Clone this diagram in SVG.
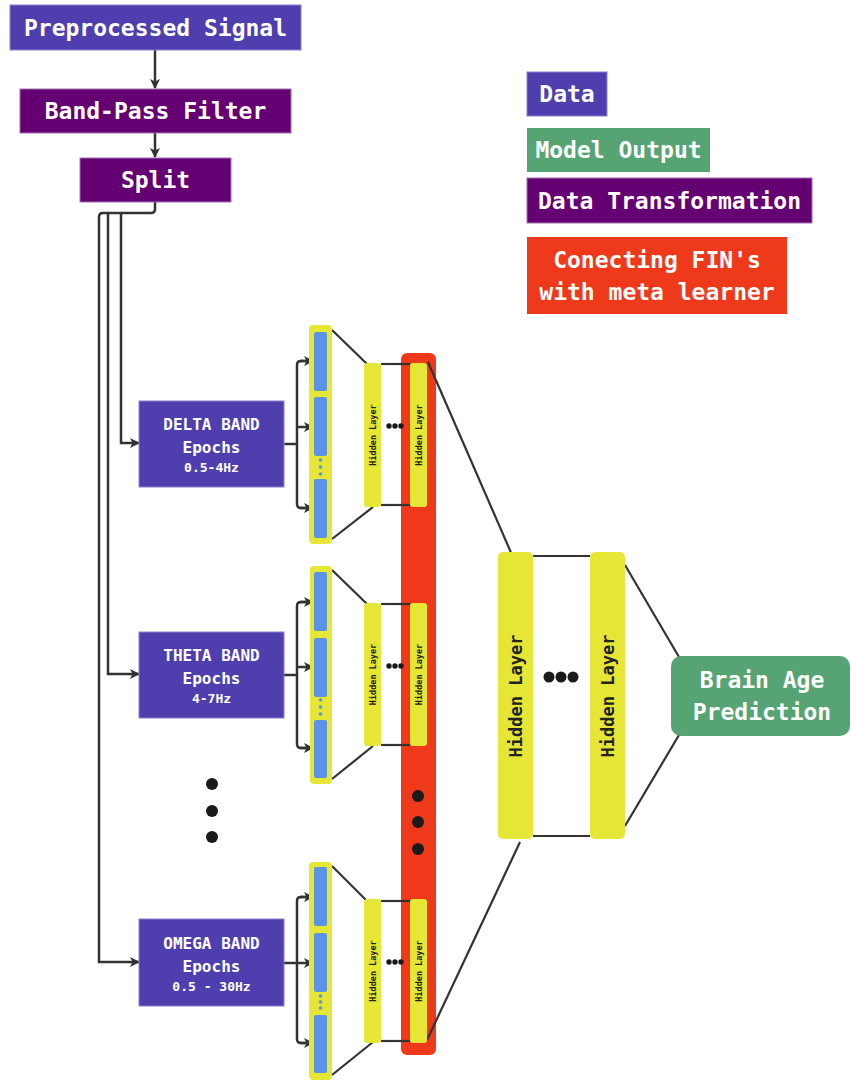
<svg xmlns="http://www.w3.org/2000/svg" width="851" height="1080" viewBox="0 0 851 1080">
<style>
.t{font-family:"DejaVu Sans Mono","Liberation Mono",monospace;font-weight:bold;fill:#fff;text-anchor:middle;dominant-baseline:central}
.big{font-size:23px}
.mid{font-size:16px}
.sm{font-size:13px}
.hl{font-family:"DejaVu Sans Mono","Liberation Mono",monospace;font-weight:bold;fill:#222;text-anchor:middle;dominant-baseline:central;font-size:8.5px}
.hlb{font-family:"DejaVu Sans Mono","Liberation Mono",monospace;font-weight:bold;fill:#222;text-anchor:middle;dominant-baseline:central;font-size:17px}
.data{fill:#4f3fae;stroke:#8b80d2;stroke-width:1}
.trans{fill:#650072;stroke:#a070b0;stroke-width:1}
.green{fill:#56a474}
.red{fill:#ee3a1b}
.yel{fill:#e5e635}
.blue{fill:#5b93e8}
.ln{fill:none;stroke:#333;stroke-width:2.5}
.th{fill:none;stroke:#333;stroke-width:2.2}
.dot{fill:#1a1a1a}
.bdot{fill:#5b93e8}
</style>
<defs>
<marker id="ah" viewBox="0 0 10 10" refX="9" refY="5" markerWidth="10" markerHeight="10" markerUnits="userSpaceOnUse" orient="auto">
<path d="M0,0 L10,5 L0,10 L2.5,5 Z" fill="#333"/>
</marker>
</defs>

<!-- legend -->
<g id="legend-data"><rect x="527" y="72" width="80" height="44" class="data"/><text x="567" y="94" class="t big">Data</text></g>
<g id="legend-model"><rect x="527" y="128" width="183" height="44" class="green"/><text x="618.5" y="150" class="t big">Model Output</text></g>
<g id="legend-trans"><rect x="527" y="178" width="285" height="45" class="trans"/><text x="669.5" y="200.5" class="t big">Data Transformation</text></g>
<g id="legend-meta"><rect x="527" y="237" width="260" height="77" class="red"/><text x="657" y="260" class="t big">Conecting FIN's</text><text x="657" y="292" class="t big">with meta learner</text></g>

<!-- red meta bar -->
<g id="meta-bar"><rect x="401" y="353" width="35" height="702" rx="6" class="red"/>
<circle cx="418" cy="796" r="6" class="dot"/><circle cx="418" cy="822" r="6" class="dot"/><circle cx="418" cy="849" r="6" class="dot"/></g>

<!-- connectors -->
<g id="connectors">
<path class="ln" d="M155,50 V88" marker-end="url(#ah)"/>
<path class="ln" d="M155,133 V157" marker-end="url(#ah)"/>
<path class="ln" d="M155,202 V209 Q155,213 151,213 H103 Q99,213 99,217 V962 H139" marker-end="url(#ah)"/>
<path class="ln" d="M108,213 V674 H139" marker-end="url(#ah)"/>
<path class="ln" d="M121,213 V443 H139" marker-end="url(#ah)"/>
<!-- delta branches -->
<path class="ln" d="M283,444 H297"/>
<path class="ln" d="M313,361 H301 Q297,361 297,365 V504 Q297,508 301,508 H313"/>
<path class="ln" d="M300,361 H313" marker-end="url(#ah)"/>
<path class="ln" d="M297,427 H313" marker-end="url(#ah)"/>
<path class="ln" d="M300,508 H313" marker-end="url(#ah)"/>
<!-- theta branches -->
<path class="ln" d="M283,675 H297"/>
<path class="ln" d="M313,602 H301 Q297,602 297,606 V744 Q297,748 301,748 H313"/>
<path class="ln" d="M300,602 H313" marker-end="url(#ah)"/>
<path class="ln" d="M297,667 H313" marker-end="url(#ah)"/>
<path class="ln" d="M300,748 H313" marker-end="url(#ah)"/>
<!-- omega branches -->
<path class="ln" d="M283,963 H297"/>
<path class="ln" d="M313,897 H301 Q297,897 297,901 V1039 Q297,1043 301,1043 H313"/>
<path class="ln" d="M300,897 H313" marker-end="url(#ah)"/>
<path class="ln" d="M297,963 H313" marker-end="url(#ah)"/>
<path class="ln" d="M300,1043 H313" marker-end="url(#ah)"/>
<!-- delta net lines -->
<path class="th" d="M332,330 L367,364"/>
<path class="th" d="M332,539 L373,507"/>
<path class="th" d="M381,364 H410"/>
<path class="th" d="M381,505 H410"/>
<!-- theta net lines -->
<path class="th" d="M332,570 L367,604"/>
<path class="th" d="M332,779 L373,746"/>
<path class="th" d="M381,604 H410"/>
<path class="th" d="M381,745 H410"/>
<!-- omega net lines -->
<path class="th" d="M332,866 L367,901"/>
<path class="th" d="M332,1075 L373,1042"/>
<path class="th" d="M381,901 H410"/>
<path class="th" d="M381,1041 H410"/>
<!-- to meta learner -->
<path class="th" d="M428,362 L516,564"/>
<path class="th" d="M427,1040 L520,842"/>
<path class="th" d="M533,556 H590"/>
<path class="th" d="M533,836 H590"/>
<path class="th" d="M625,565 L679,657"/>
<path class="th" d="M625,826 L679,735"/>
</g>

<!-- top nodes -->
<g id="preprocessed"><rect x="10" y="5" width="291" height="45" class="data"/><text x="155.5" y="27.5" class="t big">Preprocessed Signal</text></g>
<g id="bandpass"><rect x="20" y="89" width="271" height="44" class="trans"/><text x="155.5" y="111" class="t big">Band-Pass Filter</text></g>
<g id="split"><rect x="80" y="158" width="151" height="44" class="trans"/><text x="155.5" y="180" class="t big">Split</text></g>

<!-- band boxes -->
<g id="delta-band"><rect x="139" y="401" width="145" height="86" class="data"/>
<text x="211.5" y="424" class="t mid">DELTA BAND</text><text x="211.5" y="447" class="t mid">Epochs</text><text x="211.5" y="467" class="t sm">0.5-4Hz</text></g>
<g id="theta-band"><rect x="139" y="632" width="145" height="86" class="data"/>
<text x="211.5" y="655" class="t mid">THETA BAND</text><text x="211.5" y="678" class="t mid">Epochs</text><text x="211.5" y="698" class="t sm">4-7Hz</text></g>
<g id="omega-band"><rect x="139" y="919" width="145" height="87" class="data"/>
<text x="211.5" y="943" class="t mid">OMEGA BAND</text><text x="211.5" y="966" class="t mid">Epochs</text><text x="211.5" y="986" class="t sm">0.5 - 30Hz</text></g>

<g id="band-dots"><circle cx="212" cy="784" r="6" class="dot"/><circle cx="212" cy="811" r="6" class="dot"/><circle cx="212" cy="837" r="6" class="dot"/></g>

<!-- delta network -->
<g id="delta-input"><rect x="309" y="325" width="23" height="219" rx="4" class="yel"/>
<rect x="314" y="332" width="13" height="59" rx="2" class="blue"/><rect x="314" y="397" width="13" height="59" rx="2" class="blue"/><rect x="314" y="479" width="13" height="59" rx="2" class="blue"/>
<circle cx="320.5" cy="460" r="1.8" class="bdot"/><circle cx="320.5" cy="467" r="1.8" class="bdot"/><circle cx="320.5" cy="474" r="1.8" class="bdot"/></g>
<g id="delta-hidden1"><rect x="364" y="363" width="17" height="144" rx="3" class="yel"/><text transform="translate(372.5,435) rotate(-90)" class="hl">Hidden Layer</text></g>
<g id="delta-dots"><circle cx="389" cy="426" r="2.7" class="dot"/><circle cx="395" cy="426" r="2.7" class="dot"/><circle cx="401" cy="426" r="2.7" class="dot"/></g>
<g id="delta-hidden2"><rect x="410" y="363" width="17" height="144" rx="3" class="yel"/><text transform="translate(418.5,435) rotate(-90)" class="hl">Hidden Layer</text></g>

<!-- theta network -->
<g id="theta-input"><rect x="310" y="566" width="22" height="218" rx="4" class="yel"/>
<rect x="314" y="572" width="13" height="59" rx="2" class="blue"/><rect x="314" y="638" width="13" height="59" rx="2" class="blue"/><rect x="314" y="720" width="13" height="58" rx="2" class="blue"/>
<circle cx="320.5" cy="700" r="1.8" class="bdot"/><circle cx="320.5" cy="707" r="1.8" class="bdot"/><circle cx="320.5" cy="714" r="1.8" class="bdot"/></g>
<g id="theta-hidden1"><rect x="364" y="603" width="17" height="143" rx="3" class="yel"/><text transform="translate(372.5,674.5) rotate(-90)" class="hl">Hidden Layer</text></g>
<g id="theta-dots"><circle cx="389" cy="666" r="2.7" class="dot"/><circle cx="395" cy="666" r="2.7" class="dot"/><circle cx="401" cy="666" r="2.7" class="dot"/></g>
<g id="theta-hidden2"><rect x="410" y="603" width="17" height="143" rx="3" class="yel"/><text transform="translate(418.5,674.5) rotate(-90)" class="hl">Hidden Layer</text></g>

<!-- omega network -->
<g id="omega-input"><rect x="309" y="862" width="23" height="218" rx="4" class="yel"/>
<rect x="314" y="867" width="13" height="59" rx="2" class="blue"/><rect x="314" y="933" width="13" height="59" rx="2" class="blue"/><rect x="314" y="1015" width="13" height="58" rx="2" class="blue"/>
<circle cx="320.5" cy="996" r="1.8" class="bdot"/><circle cx="320.5" cy="1002" r="1.8" class="bdot"/><circle cx="320.5" cy="1008" r="1.8" class="bdot"/></g>
<g id="omega-hidden1"><rect x="364" y="899" width="17" height="144" rx="3" class="yel"/><text transform="translate(372.5,971) rotate(-90)" class="hl">Hidden Layer</text></g>
<g id="omega-dots"><circle cx="389" cy="962" r="2.7" class="dot"/><circle cx="395" cy="962" r="2.7" class="dot"/><circle cx="401" cy="962" r="2.7" class="dot"/></g>
<g id="omega-hidden2"><rect x="410" y="899" width="17" height="144" rx="3" class="yel"/><text transform="translate(418.5,971) rotate(-90)" class="hl">Hidden Layer</text></g>

<!-- meta learner -->
<g id="meta-hidden1"><rect x="498" y="552" width="35" height="287" rx="5" class="yel"/><text transform="translate(515.5,696) rotate(-90)" class="hlb">Hidden Layer</text></g>
<g id="meta-dots"><circle cx="549" cy="677" r="5.5" class="dot"/><circle cx="561" cy="677" r="5.5" class="dot"/><circle cx="573" cy="677" r="5.5" class="dot"/></g>
<g id="meta-hidden2"><rect x="590" y="552" width="35" height="287" rx="5" class="yel"/><text transform="translate(607.5,696) rotate(-90)" class="hlb">Hidden Layer</text></g>

<g id="brain-age"><rect x="671" y="656" width="179" height="80" rx="10" class="green"/>
<text x="762" y="680" class="t big">Brain Age</text><text x="762" y="712" class="t big">Prediction</text></g>
</svg>
